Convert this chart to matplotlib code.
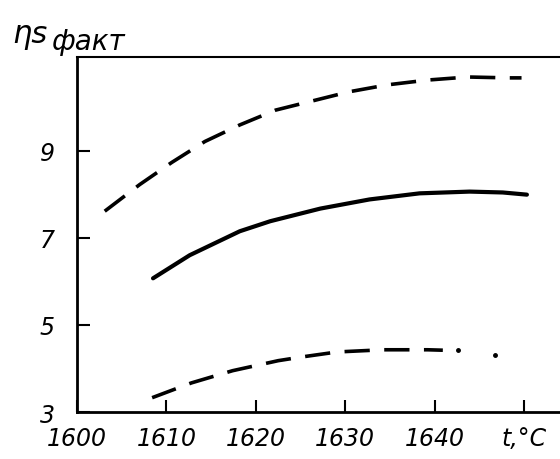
import numpy as np
from matplotlib import pyplot as plt

# температура, °C и ηs факт
t_upper = [1603.1, 1607.0, 1610.6, 1614.3, 1618.2, 1622.2, 1626.3, 1630.4, 1634.7, 1639.2, 1643.7, 1648.2, 1649.7]
eta_upper = [7.61, 8.22, 8.73, 9.21, 9.59, 9.93, 10.14, 10.35, 10.51, 10.62, 10.69, 10.67, 10.67]

t_mid = [1608.5, 1612.6, 1618.2, 1621.6, 1627.2, 1632.7, 1638.3, 1643.9, 1647.6, 1650.3]
eta_mid = [6.07, 6.60, 7.15, 7.38, 7.67, 7.88, 8.02, 8.06, 8.04, 7.99]

t_lower = [1608.4, 1612.8, 1617.4, 1622.5, 1625.3, 1629.1, 1634.2, 1639.2, 1640.9]
eta_lower = [3.33, 3.67, 3.95, 4.18, 4.27, 4.38, 4.43, 4.43, 4.42]
t_lower_tail = [1642.6, 1646.7]
eta_lower_tail = [4.42, 4.30]

xticks = [1600, 1610, 1620, 1630, 1640, 1650]
xlabels = ["1600", "1610", "1620", "1630", "1640", "t,°C"]
yticks = [3, 5, 7, 9]

fig = plt.figure(figsize=(5.6, 4.6), dpi=100)
ax = fig.add_axes([0.1375, 0.102, 0.8625, 0.772])

ax.plot(t_upper, eta_upper, color="black", lw=2.6, dashes=(7, 4), dash_capstyle="butt")
ax.plot(t_mid, eta_mid, color="black", lw=3.0, solid_capstyle="round")
ax.plot(t_lower, eta_lower, color="black", lw=2.6, dashes=(7, 4), dash_capstyle="butt")
ax.plot(t_lower_tail, eta_lower_tail, "o", color="black", ms=2.5)

ax.set_xlim(1600, 1654)
ax.set_ylim(3, 11.15)

ax.spines["right"].set_visible(False)
ax.spines["left"].set_linewidth(2.0)
ax.spines["bottom"].set_linewidth(2.0)
ax.spines["top"].set_linewidth(1.5)

ax.set_xticks(xticks)
ax.set_xticklabels(xlabels)
ax.set_yticks(yticks)
ax.set_yticklabels([str(v) for v in yticks])
ax.tick_params(axis="both", direction="in", length=9, width=1.5, labelsize=17)
ax.tick_params(axis="x", pad=10)
ax.tick_params(axis="y", pad=16)
for lab in ax.get_xticklabels() + ax.get_yticklabels():
    lab.set_fontstyle("italic")

fig.text(0.022, 1 - 43 / 460, "ηs", fontsize=22, style="italic", va="baseline")
fig.text(0.092, 1 - 50 / 460, "факт", fontsize=20, style="italic", va="baseline")

plt.savefig("out.png", dpi=100)
